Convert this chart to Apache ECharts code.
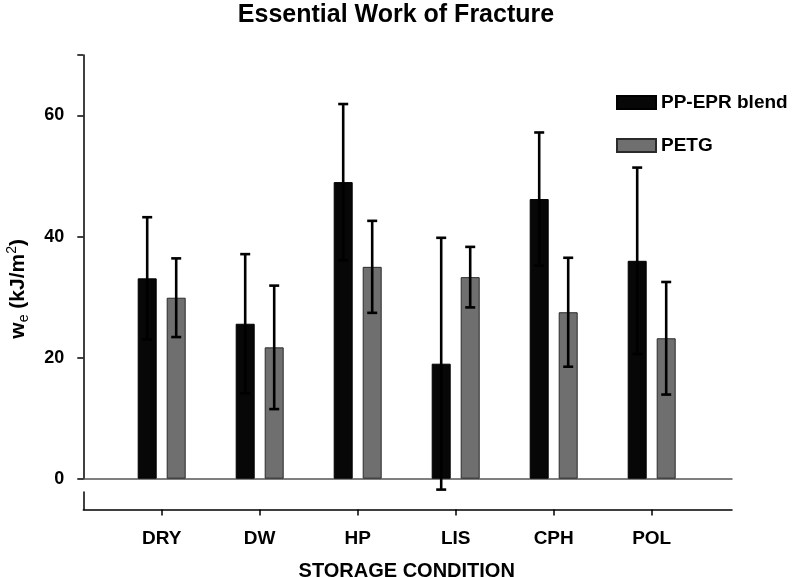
<!DOCTYPE html>
<html>
<head>
<meta charset="utf-8">
<script src="https://cdn.jsdelivr.net/npm/echarts@6/dist/echarts.min.js"></script>
<style>
html,body{margin:0;padding:0;background:#fff;}
#chart{width:792px;height:577px;}
</style>
</head>
<body>
<div id="chart"></div>
<script>
// ---- data ----
const categories = ['DRY', 'DW', 'HP', 'LIS', 'CPH', 'POL'];
const seriesNames = ['PP-EPR blend', 'PETG'];
const ppEprValues = [33.1, 25.6, 49.0, 19.0, 46.2, 36.0];
const ppEprErrors = [10.1, 11.5, 12.9, 20.8, 11.0, 15.4];
const petgValues = [29.9, 21.7, 35.0, 33.3, 27.5, 23.2];
const petgErrors = [6.5, 10.2, 7.6, 5.0, 9.0, 9.3];
const yTicks = [0, 20, 40, 60];

// ---- styles ----
const FONT = 'Liberation Sans, Arial, sans-serif';
const BAR_W = 19;
const BAR_GAP_PX = 10;
const SHIFT = (BAR_W + BAR_GAP_PX) / 2;

function errData(vals, errs) {
  return vals.map((v, i) => [i, v, errs[i]]);
}
function errorRenderer(dir) {
  return function (params, api) {
    const i = api.value(0), v = api.value(1), e = api.value(2);
    const top = api.coord([i, v + e]);
    const bot = api.coord([i, v - e]);
    const x = top[0] + dir * SHIFT;
    const cap = 5;
    const st = { stroke: '#000', lineWidth: 2.6 };
    return {
      type: 'group',
      children: [
        { type: 'line', shape: { x1: x, y1: top[1], x2: x, y2: bot[1] }, style: st },
        { type: 'line', shape: { x1: x - cap, y1: top[1], x2: x + cap, y2: top[1] }, style: st },
        { type: 'line', shape: { x1: x - cap, y1: bot[1], x2: x + cap, y2: bot[1] }, style: st }
      ]
    };
  };
}

const chart = echarts.init(document.getElementById('chart'), null, { renderer: 'canvas' });
const axisBlack = { color: '#000', width: 1.5 };

chart.setOption({
  animation: false,
  backgroundColor: '#fff',
  textStyle: { fontFamily: FONT },
  title: {
    text: 'Essential Work of Fracture',
    left: 'center',
    top: -2,
    textStyle: { fontFamily: FONT, fontSize: 25, fontWeight: 'bold', color: '#000' }
  },
  legend: {
    data: seriesNames,
    orient: 'vertical',
    left: 611,
    top: 88,
    itemWidth: 39,
    itemHeight: 13,
    itemGap: 24,
    icon: 'rect',
    textStyle: { fontFamily: FONT, fontSize: 19, fontWeight: 'bold', color: '#000' }
  },
  grid: [
    { left: 112.7, right: 91.3, top: 55, bottom: 98.3, outerBoundsMode: 'none' },
    { left: 83.3, right: 60, top: 55, bottom: 98.3, outerBoundsMode: 'none' },
    { left: 83.3, right: 60, top: 492, bottom: 67.5, outerBoundsMode: 'none' },
    { left: 112.7, right: 91.3, top: 492, bottom: 67.5, outerBoundsMode: 'none' }
  ],
  xAxis: [
    { gridIndex: 0, type: 'category', data: categories, show: false },
    { gridIndex: 1, type: 'value', min: 0, max: 1,
      axisLine: { show: true, lineStyle: { color: '#555', width: 1.5 } },
      axisTick: { show: false }, axisLabel: { show: false }, splitLine: { show: false } },
    { gridIndex: 2, type: 'value', min: 0, max: 1,
      axisLine: { show: true, lineStyle: axisBlack },
      axisTick: { show: false }, axisLabel: { show: false }, splitLine: { show: false } },
    { gridIndex: 3, type: 'category', data: categories, position: 'bottom',
      axisLine: { show: false, onZero: false },
      axisTick: { show: true, inside: false, alignWithLabel: true, length: 6, lineStyle: axisBlack },
      axisLabel: { fontFamily: FONT, fontSize: 19, fontWeight: 'bold', color: '#000', margin: 20 },
      name: 'STORAGE CONDITION',
      nameLocation: 'middle',
      nameGap: 52,
      nameTextStyle: { fontFamily: FONT, fontSize: 20, fontWeight: 'bold', color: '#000' }
    }
  ],
  yAxis: [
    { gridIndex: 0, type: 'value', min: 0, max: 70, show: false },
    { gridIndex: 1, type: 'value', min: 0, max: 70, interval: 20,
      axisLine: { show: true, lineStyle: axisBlack },
      axisTick: { show: true, length: 6, lineStyle: axisBlack },
      axisLabel: { fontFamily: FONT, fontSize: 18, fontWeight: 'bold', color: '#000', margin: 19,
        customValues: yTicks },
      splitLine: { show: false },
      name: '{w|w}{e|e}{w| (kJ/m}{s|2}{w|)}',
      nameLocation: 'middle',
      nameGap: 52,
      nameTextStyle: {
        padding: [0, 44, 0, 0],
        rich: {
          w: { fontFamily: FONT, fontSize: 21, fontWeight: 'bold', color: '#000', lineHeight: 26, verticalAlign: 'middle' },
          e: { fontFamily: FONT, fontSize: 14, color: '#000', lineHeight: 26, verticalAlign: 'bottom' },
          s: { fontFamily: FONT, fontSize: 14, color: '#000', lineHeight: 26, verticalAlign: 'top' }
        }
      }
    },
    { gridIndex: 2, type: 'value', min: 0, max: 1,
      axisLine: { show: true, lineStyle: axisBlack },
      axisTick: { show: false }, axisLabel: { show: false }, splitLine: { show: false } },
    { gridIndex: 3, type: 'value', min: 0, max: 1, show: false }
  ],
  series: [
    { name: seriesNames[0], type: 'bar', xAxisIndex: 0, yAxisIndex: 0,
      data: ppEprValues, barWidth: BAR_W, barGap: (BAR_GAP_PX / BAR_W * 100).toFixed(1) + '%',
      itemStyle: { color: '#070707', borderColor: '#000', borderWidth: 1 } },
    { name: seriesNames[1], type: 'bar', xAxisIndex: 0, yAxisIndex: 0,
      data: petgValues, barWidth: BAR_W,
      itemStyle: { color: '#6f6f6f', borderColor: '#2a2a2a', borderWidth: 1 } },
    { type: 'custom', xAxisIndex: 0, yAxisIndex: 0, clip: false, z: 5,
      renderItem: errorRenderer(-1), data: errData(ppEprValues, ppEprErrors) },
    { type: 'custom', xAxisIndex: 0, yAxisIndex: 0, clip: false, z: 5,
      renderItem: errorRenderer(1), data: errData(petgValues, petgErrors) }
  ]
});
</script>
</body>
</html>
